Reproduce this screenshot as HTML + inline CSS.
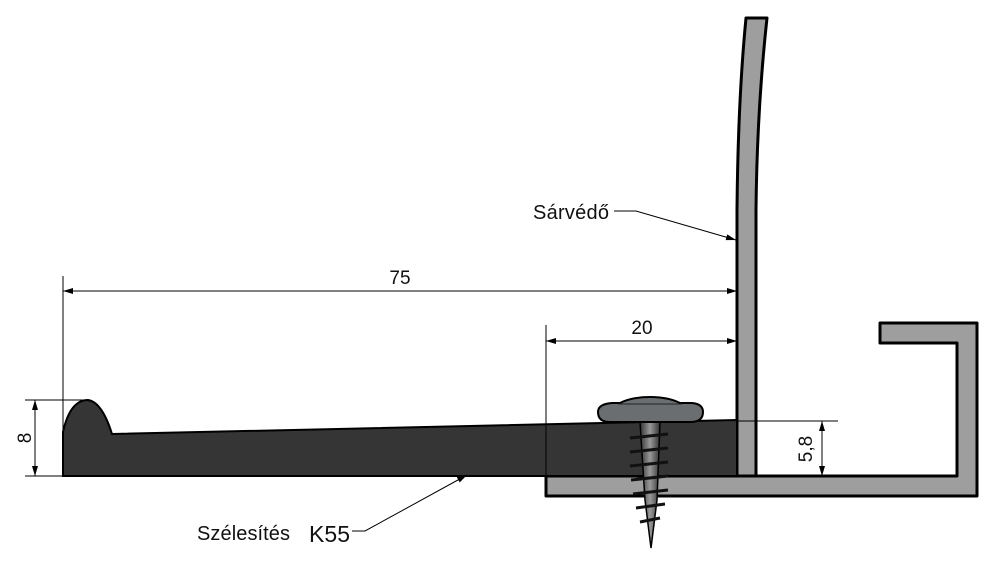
<!DOCTYPE html>
<html><head><meta charset="utf-8"><style>
html,body{margin:0;padding:0;background:#fff;}
svg{display:block;}
text{font-family:"Liberation Sans",sans-serif;fill:#111;}
</style></head><body>
<svg width="1000" height="580" viewBox="0 0 1000 580" xmlns="http://www.w3.org/2000/svg">
<defs>
<marker id="a" viewBox="0 0 10 6" refX="10" refY="3" markerWidth="10" markerHeight="6" orient="auto-start-reverse" markerUnits="userSpaceOnUse"><path d="M0,0 L10,3 L0,6 z" fill="#000"/></marker>
<linearGradient id="sg" x1="0" x2="1"><stop offset="0" stop-color="#333"/><stop offset="0.5" stop-color="#999"/><stop offset="1" stop-color="#333"/></linearGradient>
</defs>
<path d="M546,476 L957,476 L957,343 L880,343 L880,323 L977,323 L977,496 L546,496 Z" fill="#9e9e9e" stroke="#000" stroke-width="3" stroke-linejoin="round"/>
<path d="M737,476 L737,210 Q738,100 746,18 L767,18 Q757,110 756,210 L756,476 Z" fill="#9e9e9e" stroke="#000" stroke-width="3" stroke-linejoin="round"/>
<path d="M63,476 L63,432 Q70,400 88,400 Q102,402 112,434 L737,420 L737,476 Z" fill="#353535" stroke="#000" stroke-width="2"/>
<path d="M640,422 L660,422 L657,500 L651,548 L645,500 Z" fill="url(#sg)" stroke="#000" stroke-width="1.5"/>
<g stroke="#111" stroke-width="3">
<line x1="630" y1="438" x2="668" y2="434"/><line x1="630" y1="452" x2="668" y2="448"/><line x1="630" y1="466" x2="668" y2="462"/><line x1="631" y1="480" x2="668" y2="476"/><line x1="633" y1="494" x2="668" y2="490"/><line x1="636" y1="508" x2="665" y2="504"/><line x1="640" y1="522" x2="660" y2="518"/>
</g>
<path d="M598,412 Q598,404 612,403 L620,403 Q632,397 650,397 Q668,397 680,403 L692,403 Q703,404 703,412 Q703,422 690,422 L610,422 Q598,422 598,412 Z" fill="#6a6e70" stroke="#000" stroke-width="2"/>
<line x1="618" y1="404" x2="682" y2="404" stroke="#222" stroke-width="1"/>
<g stroke="#000" stroke-width="1" fill="none">
<line x1="63" y1="276" x2="63" y2="430"/>
<line x1="63" y1="291" x2="737" y2="291" marker-start="url(#a)" marker-end="url(#a)"/>
<line x1="546" y1="325" x2="546" y2="476"/>
<line x1="546" y1="341" x2="737" y2="341" marker-start="url(#a)" marker-end="url(#a)"/>
<line x1="25" y1="400" x2="88" y2="400"/>
<line x1="25" y1="476" x2="63" y2="476"/>
<line x1="35" y1="400" x2="35" y2="476" marker-start="url(#a)" marker-end="url(#a)"/>
<line x1="737" y1="421" x2="838" y2="421"/>
<line x1="822" y1="421" x2="822" y2="476" marker-start="url(#a)" marker-end="url(#a)"/>
<path d="M614,211 L636,211 L736,240" marker-end="url(#a)"/>
<path d="M352,531 L365,531 L467,475" marker-end="url(#a)"/>
</g>
<text x="400" y="284" font-size="19" text-anchor="middle">75</text>
<text x="642" y="334" font-size="19" text-anchor="middle">20</text>
<text x="25" y="438" font-size="19" text-anchor="middle" transform="rotate(-90 25 438)" dy="6">8</text>
<text x="806" y="449" font-size="19" text-anchor="middle" transform="rotate(-90 806 449)" dy="6">5,8</text>
<text x="533" y="219" font-size="20" textLength="76">Sárvédő</text>
<text x="197" y="540" font-size="20" textLength="93">Szélesítés</text>
<text x="309" y="542" font-size="23" textLength="41">K55</text>
</svg>
</body></html>
